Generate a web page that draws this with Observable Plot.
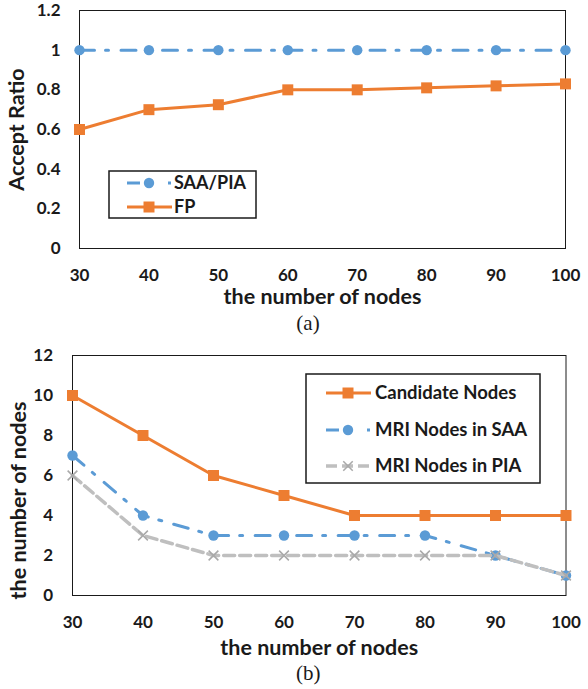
<!DOCTYPE html>
<html>
<head>
<meta charset="utf-8">
<script src="https://cdn.jsdelivr.net/npm/d3@7"></script>
<script src="https://cdn.jsdelivr.net/npm/@observablehq/plot@0.6"></script>
<style>
  html, body { margin: 0; padding: 0; background: #fff; }
  #wrap { position: relative; width: 588px; height: 689px; }
  #wrap > svg { display: block; }
  #legend { position: absolute; left: 0; top: 0; pointer-events: none; }
</style>
</head>
<body>
<div id="wrap"></div>
<script>
// ---- data ----
const nodes = [30, 40, 50, 60, 70, 80, 90, 100];
const saaPiaRatio = [1, 1, 1, 1, 1, 1, 1, 1];
const fpRatio = [0.6, 0.7, 0.725, 0.8, 0.8, 0.81, 0.82, 0.83];
const candidateNodes = [10, 8, 6, 5, 4, 4, 4, 4];
const mriSAA = [7, 4, 3, 3, 3, 3, 2, 1];
const mriPIA = [6, 3, 2, 2, 2, 2, 2, 1];
const ratioTicks = [0, 0.2, 0.4, 0.6, 0.8, 1, 1.2];
const countTicks = [0, 2, 4, 6, 8, 10, 12];
const legendA = ["SAA/PIA", "FP"];
const legendB = ["Candidate Nodes", "MRI Nodes in SAA", "MRI Nodes in PIA"];

const BLUE = "#5B9BD5", ORANGE = "#ED7D31", GRAY = "#BFBFBF", GRAYX = "#A9A9A9";
const INK = "#1a1a1a";
const FONT = "Lato, 'Open Sans', sans-serif";
const DASHDOT = "15,11,3,12.5";
const DASH = "11,5";

const toRows = (ys) => nodes.map((x, i) => ({x, y: ys[i]}));

const wrap = document.getElementById("wrap");
const baseStyle = {fontFamily: FONT, fontSize: "17px", fontWeight: "bold", color: INK, background: "#fff", overflow: "visible"};
const titleOpts = {fontSize: 21.5, fontWeight: "bold", fill: INK, textAnchor: "middle", lineAnchor: "middle"};
const capOpts = {fontSize: 21, fontWeight: "normal", fontFamily: "'Liberation Serif', serif", fill: INK, textAnchor: "middle", lineAnchor: "middle"};

// ---- panel (a) ----
const plotA = Plot.plot({
  width: 588, height: 340,
  marginLeft: 79, marginRight: 23, marginTop: 10, marginBottom: 92,
  style: baseStyle,
  x: {domain: [30, 100]},
  y: {domain: [0, 1.2]},
  marks: [
    Plot.axisX({ticks: nodes, tickSize: 0, tickPadding: 20, label: null, tickFormat: d => String(d)}),
    Plot.axisY({ticks: ratioTicks, tickSize: 0, tickPadding: 19, label: null, tickFormat: d => String(d)}),
    Plot.frame({stroke: INK, strokeWidth: 1}),
    Plot.line(toRows(saaPiaRatio), {x: "x", y: "y", stroke: BLUE, strokeWidth: 3, strokeDasharray: DASHDOT}),
    Plot.dot(toRows(saaPiaRatio), {x: "x", y: "y", symbol: "circle", r: 5.2, fill: BLUE, stroke: "none"}),
    Plot.line(toRows(fpRatio), {x: "x", y: "y", stroke: ORANGE, strokeWidth: 3}),
    Plot.dot(toRows(fpRatio), {x: "x", y: "y", symbol: "square", r: 6.2, fill: ORANGE, stroke: "none"}),
    Plot.text(["the number of nodes"], {frameAnchor: "bottom", dy: 49, ...titleOpts}),
    Plot.text(["Accept Ratio"], {frameAnchor: "left", dx: -62, rotate: -90, ...titleOpts}),
    Plot.text(["(a)"], {frameAnchor: "bottom", dx: -14.5, dy: 75, ...capOpts})
  ]
});
wrap.appendChild(plotA);

// ---- panel (b) ----
const plotB = Plot.plot({
  width: 588, height: 349,
  marginLeft: 72, marginRight: 22.5, marginTop: 15, marginBottom: 94,
  style: baseStyle,
  x: {domain: [30, 100]},
  y: {domain: [0, 12]},
  marks: [
    Plot.axisX({ticks: nodes, tickSize: 0, tickPadding: 20, label: null, tickFormat: d => String(d)}),
    Plot.axisY({ticks: countTicks, tickSize: 0, tickPadding: 19.5, label: null, tickFormat: d => String(d)}),
    Plot.frame({stroke: INK, strokeWidth: 1}),
    Plot.line(toRows(candidateNodes), {x: "x", y: "y", stroke: ORANGE, strokeWidth: 3}),
    Plot.dot(toRows(candidateNodes), {x: "x", y: "y", symbol: "square", r: 6.2, fill: ORANGE, stroke: "none"}),
    Plot.line(toRows(mriSAA), {x: "x", y: "y", stroke: BLUE, strokeWidth: 3, strokeDasharray: DASHDOT}),
    Plot.dot(toRows(mriSAA), {x: "x", y: "y", symbol: "circle", r: 5.2, fill: BLUE, stroke: "none"}),
    Plot.line(toRows(mriPIA), {x: "x", y: "y", stroke: GRAY, strokeWidth: 3.5, strokeDasharray: DASH}),
    Plot.dot(toRows(mriPIA), {x: "x", y: "y", symbol: "times", r: 4.5, stroke: GRAYX, strokeWidth: 1.5, fill: "none"}),
    Plot.text(["the number of nodes"], {frameAnchor: "bottom", dy: 53, ...titleOpts}),
    Plot.text(["the number of nodes"], {frameAnchor: "left", dx: -53, dy: 25, rotate: -90, ...titleOpts}),
    Plot.text(["(b)"], {frameAnchor: "bottom", dx: -11, dy: 78, ...capOpts})
  ]
});
wrap.appendChild(plotB);

// ---- legends (overlay) ----
const svg = d3.select(wrap).append("svg").attr("id", "legend")
  .attr("width", 588).attr("height", 689)
  .style("font-family", FONT).style("font-weight", "bold");

function legend(box, items, styles, fontSize) {
  const g = svg.append("g");
  g.append("rect").attr("x", box.x).attr("y", box.y).attr("width", box.w).attr("height", box.h)
    .attr("fill", "#fff").attr("stroke", INK).attr("stroke-width", 1.5);
  items.forEach((label, i) => {
    const s = styles[i];
    const y = box.rows[i];
    const x0 = box.sx0, x1 = box.sx1, xm = box.sm;
    const line = g.append("line").attr("x1", x0).attr("x2", x1).attr("y1", y).attr("y2", y)
      .attr("stroke", s.color).attr("stroke-width", s.width);
    if (s.dash) line.attr("stroke-dasharray", s.dash);
    const sym = d3.symbol().type(s.symbol).size(s.size)();
    g.append("path").attr("d", sym).attr("transform", `translate(${xm},${y})`)
      .attr("fill", s.fill).attr("stroke", s.stroke || "none").attr("stroke-width", s.sw || 0);
    g.append("text").attr("x", box.tx).attr("y", y).attr("dy", "0.35em")
      .attr("font-size", fontSize).attr("fill", INK).text(label);
  });
}

legend({x: 109, y: 171, w: 147, h: 47, rows: [183, 207], sx0: 127, sx1: 172, sm: 149, tx: 174},
  legendA,
  [
    {color: BLUE, width: 3, dash: "13,28,3,10", symbol: d3.symbolCircle, size: Math.PI * 27, fill: BLUE},
    {color: ORANGE, width: 3, symbol: d3.symbolSquare, size: 121, fill: ORANGE}
  ], 18);

legend({x: 306, y: 374, w: 234, h: 109, rows: [393, 430, 466], sx0: 326, sx1: 371, sm: 348, tx: 375},
  legendB,
  [
    {color: ORANGE, width: 3, symbol: d3.symbolSquare, size: 121, fill: ORANGE},
    {color: BLUE, width: 3, dash: "13,28,3,10", symbol: d3.symbolCircle, size: Math.PI * 27, fill: BLUE},
    {color: GRAY, width: 3.5, dash: "11,5", symbol: d3.symbolTimes, size: 60, fill: "none", stroke: GRAYX, sw: 1.5}
  ], 18.5);
</script>
</body>
</html>
